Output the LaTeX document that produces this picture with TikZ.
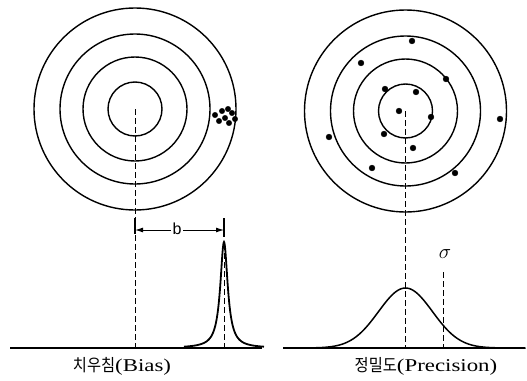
\documentclass[tikz,border=0pt]{standalone}
\usepackage{fontspec}
\setmainfont{Liberation Serif}
\newfontfamily\krfont{Noto Sans CJK KR}[FakeStretch=0.9]
\newfontfamily\latfont{Liberation Serif}[FakeStretch=1.27]
\newfontfamily\bfont{Liberation Sans}
\usetikzlibrary{arrows.meta}
\begin{document}
\begin{tikzpicture}[x=1pt,y=-1pt,
  ring/.style={line width=1.4pt},
  guide/.style={dash pattern=on 6pt off 3pt, line width=1pt},
  curve/.style={line width=1.5pt},
  caption/.style={inner sep=0pt}]
\useasboundingbox (0,0) rectangle (527,380);
\coordinate (cL) at (135,109);
\coordinate (cR) at (405.5,111);
\foreach \r in {27,52,75,101} {
  \draw[ring] (cL) circle (\r pt);
  \draw[ring] (cR) circle (\r pt);
}
% shots: biased cluster
\foreach \x/\y in {215/115, 219/121, 222/111, 225/118, 228/109, 229/123, 232/113, 235/119} {
  \filldraw (\x,\y) circle (2.7pt);
}
% shots: spread around the centre
\foreach \x/\y in {412/41, 361/63, 446/79, 385/89, 416/92, 399/111, 431/117, 500/119,
                   329/137, 384/134, 413/148, 372/168, 455/173} {
  \filldraw (\x,\y) circle (2.9pt);
}
% baselines
\draw[line width=1.2pt] (10,348) -- (262,348);
\draw[line width=1.2pt] (283,348) -- (525,348);
\coordinate (bL) at (135,348);
\coordinate (bR) at (405.5,348);
\draw[guide] (cL) -- (bL);
\draw[guide] (cR) -- (bR);
% narrow peak
\draw[curve, line width=1.8pt] plot[domain=-40:40, samples=121, smooth] ({224+\x},{348-106/(1+(\x/4.5)^2)});
\coordinate (pk) at (224,244);
\draw[guide, line width=0.8pt] (pk) -- (224,348);
% bias arrow
\coordinate (tL) at (135,230);
\coordinate (tR) at (224,230);
\draw[line width=1.2pt] (135,218) -- (135,234);
\draw[line width=1.2pt] (224,218) -- (224,237);
\draw[-{Latex[length=8pt,width=5pt]}, line width=1pt] (170,230) -- (tR);
\draw[-{Latex[length=8pt,width=5pt]}, line width=1pt] (170,230) -- (tL);
\node[fill=white, inner sep=1.5pt, font=\bfont\fontsize{16}{16}\selectfont] (bLab) at (177,229) {b};
% wide curve
\draw[curve] plot[domain=-120:120, samples=121, smooth] ({405.5+\x},{348-60*exp(-((\x/27)^2)/2)});
\coordinate (sg) at (443,272);
\draw[guide] (sg) -- (443,348);
\node[font=\fontsize{22}{22}\selectfont] (sLab) at (445,254) {$\sigma$};
% captions
\node[caption] (biasLab) at (122,366) {{\krfont\fontsize{17}{17}\selectfont 치우침}{\latfont\fontsize{18}{18}\selectfont(Bias)}};
\node[caption] (precLab) at (426,366) {{\krfont\fontsize{17}{17}\selectfont 정밀도}{\latfont\fontsize{18}{18}\selectfont(Precision)}};
\end{tikzpicture}
\end{document}
